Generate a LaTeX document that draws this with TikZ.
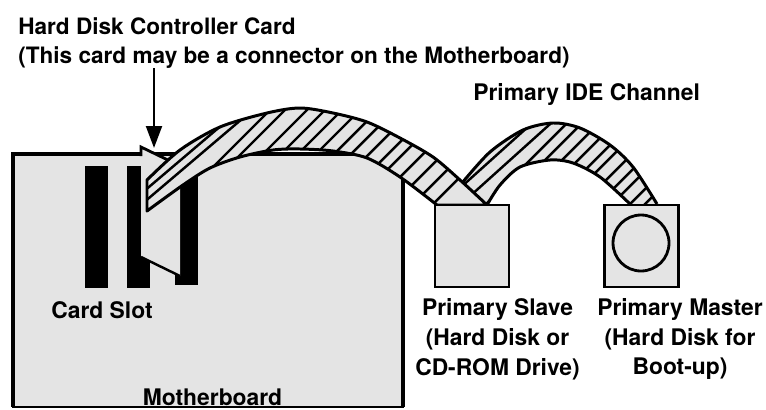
\documentclass[tikz,border=0pt]{standalone}
\usepackage{fontspec}
\setmainfont{TeX Gyre Heros}
\usetikzlibrary{arrows.meta}

\definecolor{panel}{HTML}{E4E4E4}
\def\firstupper{(147,180) (180,150) (220,127) (267,113) (300,108) (333,113) (367,122) (400,138) (433,157) (460,180) (487,205)}
\def\firstlower{(437,205) (400,177) (367,158) (333,151) (300,149) (273,150) (240,157) (210,168) (183,185) (147,211)}
\def\secondupper{(437,205) (462,183) (490,152) (523,130) (553,123) (580,128) (610,145) (633,167) (657,204)}
\def\secondlower{(630,204) (600,177) (573,163) (550,160) (520,167) (500,185) (487,205)}
\tikzset{
  board/.style={shape=rectangle,draw=black,fill=panel,line width=0.8pt,outer sep=0pt,inner sep=0pt},
  drive/.style={shape=rectangle,draw=black,fill=panel,line width=1.6pt,outer sep=0pt,inner sep=0pt,minimum width=1.48cm,minimum height=1.64cm},
  slotbar/.style={shape=rectangle,fill=black,outer sep=0pt,inner sep=0pt,minimum width=0.46cm},
  label/.style={align=center,font=\fontsize{13}{17}\selectfont\bfseries,inner sep=0pt},
  ribbonline/.style={draw=black,line width=1.7pt,line join=round},
  hatchline/.style={draw=black,line width=1.4pt}
}

\begin{document}
\begin{tikzpicture}[x=0.02cm,y=-0.02cm]
\useasboundingbox (0,0) rectangle (766,409);

\node[board,minimum width=7.8cm,minimum height=5.06cm] (motherboard) at (208,280.5) {};
\draw[black,line width=2.4pt] (motherboard.south west) -- (motherboard.north west) -- (motherboard.north east) -- (motherboard.south east);
\node[slotbar,minimum height=2.44cm] (slotone) at (96,227) {};
\node[slotbar,minimum height=2.46cm] (slottwo) at (138.5,227) {};
\node[slotbar,minimum height=2.38cm] (slotthree) at (186.5,226) {};

% card sits over the slots
\fill[panel] (141,147) -- (180,166) -- (180,276) -- (141,257) -- cycle;
\draw[black,line width=1.6pt] (141,156) -- (141,147) -- (172,162);
\draw[black,line width=1.4pt] (141,257) -- (180,276);

% second cable goes under the first one
\fill[panel] plot[smooth] coordinates {\secondupper} -- plot[smooth] coordinates {\secondlower} -- cycle;
\begin{scope}
\clip plot[smooth] coordinates {\secondupper} -- plot[smooth] coordinates {\secondlower} -- cycle;
\foreach \u/\k in {650/.9,669/.9,690/1,705/1,722/1,738/1,755/1,768/1,786/1,802/1,816/1,834/1,849/1}
  \draw[hatchline] (\u-170-100,170+100*\k) -- (\u-170+100,170-100*\k);
\end{scope}
\draw[ribbonline] plot[smooth] coordinates {(462,183) (490,152) (523,130) (553,123) (580,128) (610,145) (633,167) (657,204)};
\draw[ribbonline] plot[smooth] coordinates {\secondlower};

\fill[panel] plot[smooth] coordinates {\firstupper} -- plot[smooth] coordinates {\firstlower} -- cycle;
\begin{scope}
\clip plot[smooth] coordinates {\firstupper} -- plot[smooth] coordinates {\firstlower} -- cycle;
\foreach \u/\k in {346/.85,359/.85,380/1,395/1,417/1,435/1,452/1,470/1,488/1,505/1,523/1,542/1,557/1,577/1,597/1,617/1,637/1}
  \draw[hatchline] (\u-130-100,130+100*\k) -- (\u-130+100,130-100*\k);
\end{scope}
\draw[ribbonline] plot[smooth] coordinates {\firstupper} -- plot[smooth] coordinates {\firstlower} -- cycle;

\node[drive] (slavedrive) at (472,246) {};
\node[drive] (masterdrive) at (641.5,246) {};
\node[shape=circle,draw=black,fill=panel,line width=1.6pt,minimum size=1.12cm,inner sep=0pt] (platter) at (641,243) {};

\coordinate (arrowtop) at (154,68);
\coordinate (cardtop) at (154,148);
\draw [-{Triangle[length=12.5pt,width=9pt]},line width=1.5pt] (arrowtop) -- (cardtop);

\node[label,align=left,anchor=west,font=\fontsize{12.85}{17}\selectfont\bfseries] (cardlabel) at (18,43) {Hard Disk Controller Card\\(This card may be a connector on the Motherboard)};
\node[label,anchor=base west] (channellabel) at (473,100) {Primary IDE Channel};
\node[label,anchor=base] (slotlabel) at (102,318) {Card Slot};
\node[label,anchor=base] (boardlabel) at (212.5,405) {Motherboard};
\node[label] (slavelabel) at (497.5,339) {Primary Slave\\(Hard Disk or\\CD-ROM Drive)};
\node[label] (masterlabel) at (680,339) {Primary Master\\(Hard Disk for\\Boot-up)};
\end{tikzpicture}
\end{document}
